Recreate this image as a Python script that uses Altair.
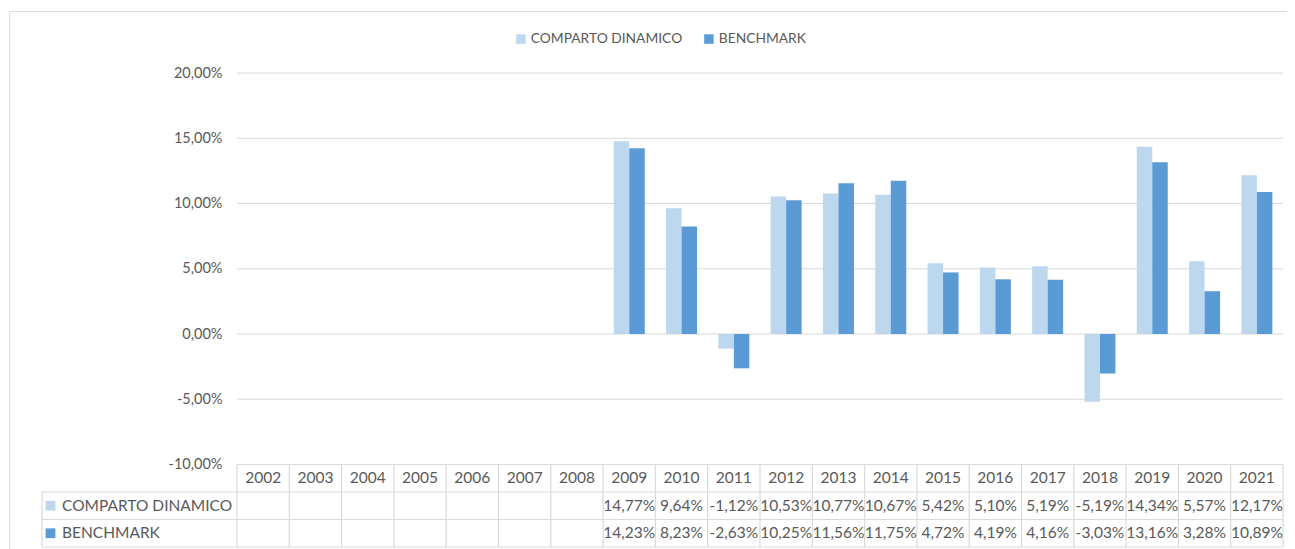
import altair as alt
import pandas as pd

# ---------------- data ----------------
years = list(range(2002, 2022))
series = ["COMPARTO DINAMICO", "BENCHMARK"]
comparto = [None, None, None, None, None, None, None,
            14.77, 9.64, -1.12, 10.53, 10.77, 10.67, 5.42, 5.10, 5.19, -5.19, 14.34, 5.57, 12.17]
benchmark = [None, None, None, None, None, None, None,
             14.23, 8.23, -2.63, 10.25, 11.56, 11.75, 4.72, 4.19, 4.16, -3.03, 13.16, 3.28, 10.89]
y_ticks = [-10, -5, 0, 5, 10, 15, 20]
colors = ["#BDD7EE", "#5B9BD5"]

# ---------------- layout constants (pixels) ----------------
FONT = "Lato"
TXT = "#595959"
GRID = "#D9D9D9"
COL = 52.3             # width of one year column
FIRST_COL = 237.0      # left edge of the 2002 column
FRAME_L, FRAME_R = 9.0, 1287.0
FRAME_T, FRAME_B = 11.0, 556.0
LABEL_COL = 42.0       # left edge of table label column
PX_PER_PCT = 13.05
Y20 = 73.0             # pixel of 20%
ROW_H = 27.5
TABLE_TOP = 464.5
BW = 15.5 / COL        # bar width in column units

def xu(px):
    return (px - FIRST_COL) / COL

W = FRAME_R - FRAME_L
H = FRAME_B - FRAME_T
xscale = alt.Scale(domain=[xu(FRAME_L), xu(FRAME_R)], nice=False, zero=False)
ymax = 20 + (Y20 - FRAME_T) / PX_PER_PCT
ymin = 20 - (FRAME_B - Y20) / PX_PER_PCT
yscale = alt.Scale(domain=[ymin, ymax], nice=False, zero=False)
tmin = -(TABLE_TOP - FRAME_T) / ROW_H
tmax = (FRAME_B - TABLE_TOP) / ROW_H
tscale = alt.Scale(domain=[tmin, tmax], nice=False, zero=False, reverse=True)

def fmt(v):
    return ("%.2f" % v).replace(".", ",") + "%"

# ---------------- tables ----------------
bar_rows = []
for i, yr in enumerate(years):
    for s, (name, vals) in enumerate(zip(series, [comparto, benchmark])):
        v = vals[i]
        if v is None:
            continue
        x0 = i + 0.5 + (s - 1) * BW
        bar_rows.append({"year": yr, "series": name, "value": v, "x0": x0, "x1": x0 + BW})
bars_df = pd.DataFrame(bar_rows)

grid_df = pd.DataFrame({"tick": [t for t in y_ticks if t > y_ticks[0]]})

cell_rows = []
for i, yr in enumerate(years):
    cell_rows.append({"x": i + 0.5, "row": 0.5, "text": str(yr)})
    for s, vals in enumerate([comparto, benchmark]):
        if vals[i] is not None:
            cell_rows.append({"x": i + 0.5, "row": 1.5 + s, "text": fmt(vals[i])})
cells_df = pd.DataFrame(cell_rows)

label_df = pd.DataFrame({"series": series, "row": [1.5, 2.5],
                         "xl": [xu(62)] * 2, "xs": [xu(50.5)] * 2})

rule_rows = []
for i in range(len(years) + 1):
    rule_rows.append({"x": i, "x2": i, "r": 0, "r2": 3})
rule_rows.append({"x": xu(LABEL_COL), "x2": xu(LABEL_COL), "r": 1, "r2": 3})
rule_rows.append({"x": 0, "x2": len(years), "r": 0, "r2": 0})
for r in [1, 2, 3]:
    rule_rows.append({"x": xu(LABEL_COL), "x2": len(years), "r": r, "r2": r})
rules_df = pd.DataFrame(rule_rows)

color_scale = alt.Scale(domain=series, range=colors)

# ---------------- layers ----------------
label_expr = ("replace(replace(format(datum.value, '.2f'), '.', ','), '\u2212', '-') + '%'")
y_axis = alt.Axis(values=y_ticks, labelExpr=label_expr, offset=-(FIRST_COL - FRAME_L),
                  domain=False, ticks=False, grid=False, labelPadding=15,
                  labelFont=FONT, labelFontSize=14.5, labelColor=TXT, title=None)

grid = alt.Chart(grid_df).mark_rule(color=GRID, strokeWidth=1).encode(
    x=alt.datum(0, scale=xscale, axis=None),
    x2=alt.datum(len(years)),
    y=alt.Y("tick:Q", scale=yscale, axis=y_axis),
)

bars = alt.Chart(bars_df).mark_bar().encode(
    x=alt.X("x0:Q", scale=xscale, axis=None),
    x2="x1:Q",
    y=alt.Y("value:Q", scale=yscale, axis=y_axis),
    y2=alt.datum(0),
    color=alt.Color("series:N", scale=color_scale,
                    legend=alt.Legend(title=None, orient="none", legendX=505, legendY=21,
                                      direction="horizontal", symbolType="square",
                                      symbolSize=90, symbolStrokeWidth=0,
                                      labelFont=FONT, labelFontSize=13.8, labelColor=TXT,
                                      columnPadding=19, labelOffset=3)),
)

table_rules = alt.Chart(rules_df).mark_rule(color=GRID, strokeWidth=1.2).encode(
    x=alt.X("x:Q", scale=xscale, axis=None),
    x2="x2:Q",
    y=alt.Y("r:Q", scale=tscale, axis=None),
    y2="r2:Q",
)

cells = alt.Chart(cells_df).mark_text(font=FONT, fontSize=15.5, color=TXT,
                                      align="center", baseline="middle").encode(
    x=alt.X("x:Q", scale=xscale, axis=None),
    y=alt.Y("row:Q", scale=tscale, axis=None),
    text="text:N",
)

labels = alt.Chart(label_df).mark_text(font=FONT, fontSize=15.5, color=TXT,
                                       align="left", baseline="middle").encode(
    x=alt.X("xl:Q", scale=xscale, axis=None),
    y=alt.Y("row:Q", scale=tscale, axis=None),
    text="series:N",
)

squares = alt.Chart(label_df).mark_square(size=95, opacity=1).encode(
    x=alt.X("xs:Q", scale=xscale, axis=None),
    y=alt.Y("row:Q", scale=tscale, axis=None),
    color=alt.Color("series:N", scale=color_scale, legend=None),
)

top = alt.layer(grid, bars)
bottom = alt.layer(table_rules, cells, labels, squares)

chart = alt.layer(top, bottom).resolve_scale(y="independent").properties(
    width=W, height=H,
    autosize=alt.AutoSizeParams(type="none"),
    padding={"left": 1, "top": 3, "right": 0, "bottom": 0},
).configure_view(stroke=GRID, strokeWidth=1.3).configure(background="white")

chart.save("out.html", embed_options={"renderer": "svg", "actions": False})
